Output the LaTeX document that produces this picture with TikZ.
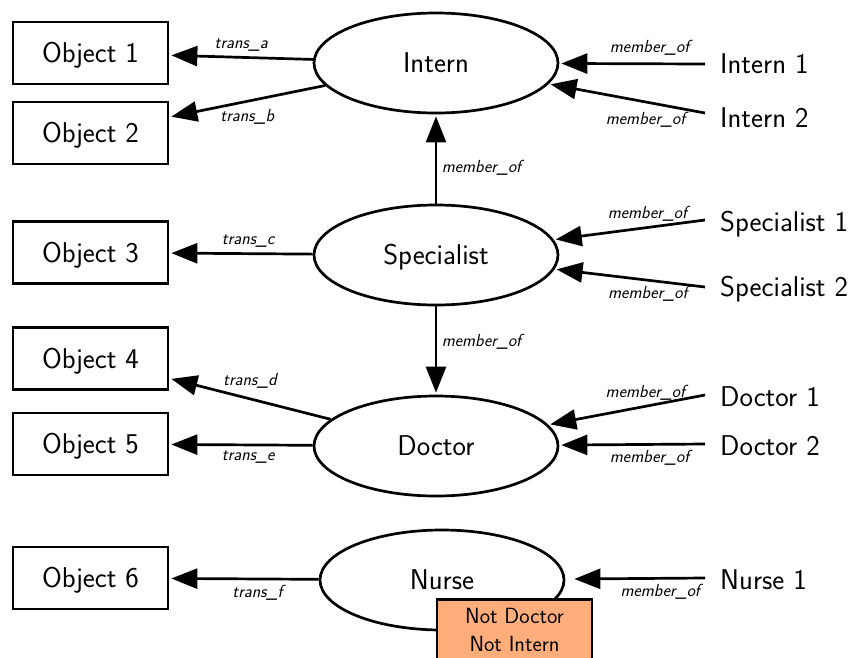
\documentclass[tikz,border=0pt]{standalone}
\usepackage{fontspec}
\usetikzlibrary{arrows.meta,shapes.geometric}
\definecolor{apricot}{rgb}{1,0.68,0.48}
\begin{document}
\begin{tikzpicture}[x=1pt,y=-1pt,
  every node/.style={font=\fontsize{28.6}{34}\selectfont\sffamily},
  objbox/.style={draw, line width=2.7pt, minimum width=155pt, minimum height=62pt,
    inner sep=0pt, text height=19.8pt, text depth=0pt},
  role/.style={draw, ellipse, line width=2.7pt, minimum width=244pt, minimum height=100pt,
    inner sep=0pt, text height=19.8pt, text depth=0pt},
  member/.style={anchor=west, inner xsep=15pt, inner ysep=4pt, text height=19.8pt, text depth=0pt},
  rel/.style={line width=2.7pt, -{Triangle[length=26pt,width=20pt]}, shorten >=2pt},
  lbl/.style={font=\fontsize{17.5}{21}\selectfont\sffamily\itshape, inner sep=4.5pt},
  excl/.style={draw, fill=apricot, line width=2.7pt, anchor=north, minimum width=155pt,
    align=center, inner ysep=9pt, text depth=25pt, font=\fontsize{22}{28}\selectfont\sffamily},
]
\useasboundingbox (0,0) rectangle (848,657);

% role ellipses
\node[role] (intern) at (436,63)  {Intern};
\node[role] (spec)   at (436,255) {Specialist};
\node[role] (doc)    at (436,446) {Doctor};
\node[role] (nurse)  at (442,580) {Nurse};

% objects on the left
\node[objbox] (o1) at (90.5,53)    {Object 1};
\node[objbox] (o2) at (90.5,133)   {Object 2};
\node[objbox] (o3) at (90.5,252.5) {Object 3};
\node[objbox] (o4) at (90.5,358.5) {Object 4};
\node[objbox] (o5) at (90.5,444)   {Object 5};
\node[objbox] (o6) at (90.5,578)   {Object 6};

% members on the right
\node[member] (i1) at (705,64)  {Intern 1};
\node[member] (i2) at (705,118) {Intern 2};
\node[member] (s1) at (705,222) {Specialist 1};
\node[member] (s2) at (705,287) {Specialist 2};
\node[member] (d1) at (705,397) {Doctor 1};
\node[member] (d2) at (705,446) {Doctor 2};
\node[member] (n1) at (705,580) {Nurse 1};

% transitions to objects
\draw[rel] (intern) -- node[lbl,above] {trans\_a} (o1);
\draw[rel] (intern) -- node[lbl,below=2pt] {trans\_b} (o2);
\draw[rel] (spec)   -- node[lbl,above,pos=0.45] {trans\_c} (o3);
\draw[rel] (doc)    -- node[lbl,above=5pt] {trans\_d} (o4);
\draw[rel] (doc)    -- node[lbl,below,pos=0.45] {trans\_e} (o5);
\draw[rel] (nurse)  -- node[lbl,below,pos=0.41] {trans\_f} (o6);

% hierarchy between roles
\draw[rel] (spec) -- node[lbl,right,pos=0.4] {member\_of} (intern);
\draw[rel] (spec) -- node[lbl,right,pos=0.4] {member\_of} (doc);

% membership of individuals
\draw[rel] (i1.west) -- node[lbl,above=3pt,pos=0.38] {member\_of} (intern);
\draw[rel] ([yshift=5pt]i2.west) -- node[lbl,below=4pt,pos=0.38] {member\_of} (intern);
\draw[rel] ([yshift=2pt]s1.west) -- node[lbl,above,pos=0.38] {member\_of} (spec);
\draw[rel] (s2.west) -- node[lbl,below,pos=0.38] {member\_of} (spec);
\draw[rel] ([yshift=2pt]d1.west) -- node[lbl,above,pos=0.38] {member\_of} (doc);
\draw[rel] ([yshift=2pt]d2.west) -- node[lbl,below,pos=0.38] {member\_of} (doc);
\draw[rel, shorten >=9pt] ([yshift=2pt]n1.west) -- node[lbl,below,pos=0.32] {member\_of} (nurse);

% exclusion note over the nurse role
\node[excl] (note) at (514.5,598) {Not Doctor\\Not Intern};
\end{tikzpicture}
\end{document}
